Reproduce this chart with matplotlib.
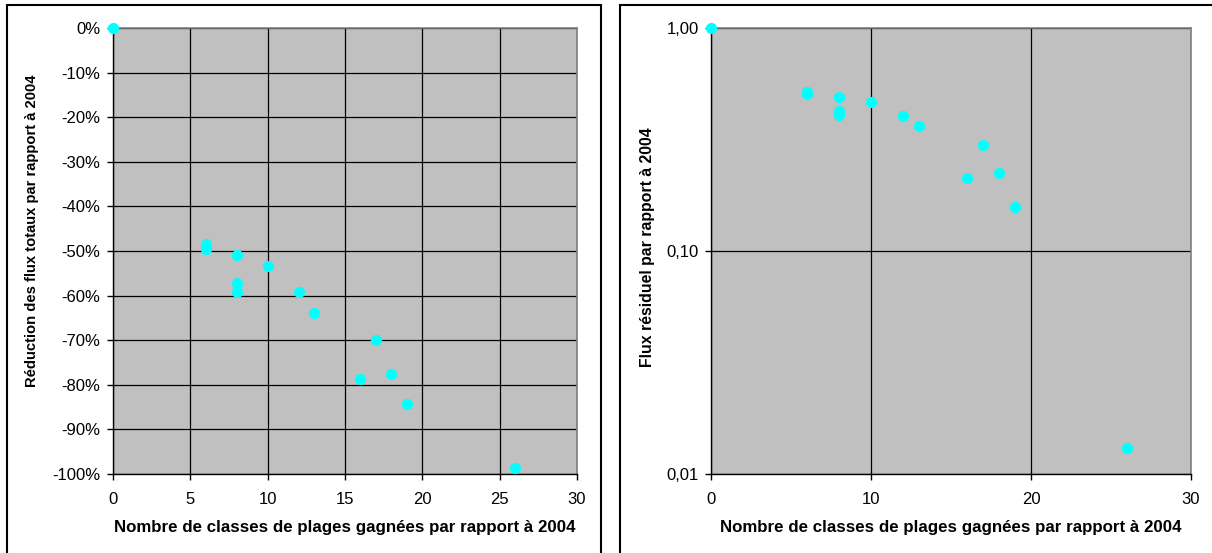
import numpy as np
import matplotlib.pyplot as plt
from matplotlib.patches import Rectangle
from matplotlib.ticker import FixedLocator, FuncFormatter

plt.rcParams['font.family'] = ['Liberation Sans', 'DejaVu Sans']

# classes de plages gagnées
classes = [0, 6, 6, 8, 8, 8, 10, 12, 13, 16, 17, 18, 19, 26]
# réduction des flux totaux (%)
reduction = [0, -48.4, -49.6, -50.9, -57.2, -59.2, -53.4, -59.3, -63.8, -78.6, -70.0, -77.6, -84.2, -98.7]
# flux résiduel (ratio)
classes_r = [0, 6, 6, 8, 8, 8, 10, 12, 13, 16, 17, 18, 19, 26]
residuel = [1.0, 0.516, 0.504, 0.491, 0.425, 0.407, 0.465, 0.405, 0.363, 0.213, 0.30, 0.224, 0.158, 0.0131]

xlabel = 'Nombre de classes de plages gagnées par rapport à 2004'
ylabel_left = 'Réduction des flux totaux par rapport à 2004'
ylabel_right = 'Flux résiduel par rapport à 2004'

W, H = 1212, 553
fig = plt.figure(figsize=(W / 100, H / 100), dpi=100)

def px_axes(x0, x1, y0, y1):
    return fig.add_axes([x0 / W, (H - y1) / H, (x1 - x0) / W, (y1 - y0) / H])

def style(ax):
    ax.set_facecolor('#c0c0c0')
    for s in ['top', 'right']:
        ax.spines[s].set_color('#808080')
        ax.spines[s].set_linewidth(1.2)
    for s in ['left', 'bottom']:
        ax.spines[s].set_color('black')
        ax.spines[s].set_linewidth(1.0)
    ax.tick_params(direction='out', length=4, width=1, labelsize=12)
    ax.tick_params(axis='x', pad=9)
    ax.tick_params(axis='y', pad=5)
    ax.grid(True, color='black', linewidth=0.9)
    ax.set_axisbelow(True)

# panneau gauche
ax1 = px_axes(113, 577, 28, 474)
style(ax1)
ax1.scatter(classes, reduction, s=65, color='#00ffff', zorder=3, clip_on=False, linewidths=0)
ax1.set_xlim(0, 30)
ax1.set_ylim(-100, 0)
ax1.set_xticks(np.arange(0, 31, 5))
ax1.set_yticks(np.arange(-100, 1, 10))
ax1.yaxis.set_major_formatter(FuncFormatter(lambda v, p: '%d%%' % round(v)))
ax1.set_xlabel(xlabel, fontsize=12.2, fontweight='bold')
ax1.xaxis.set_label_coords(0.5, -0.103)
ax1.set_ylabel(ylabel_left, fontsize=10.6, fontweight='bold')
ax1.yaxis.set_label_coords(-0.160, 0.545)

# panneau droit
ax2 = px_axes(711, 1191, 28, 474)
style(ax2)
ax2.scatter(classes_r, residuel, s=65, color='#00ffff', zorder=3, clip_on=False, linewidths=0)
ax2.set_yscale('log')
ax2.set_xlim(0, 30)
ax2.set_ylim(0.01, 1)
ax2.set_xticks([0, 10, 20, 30])
ax2.yaxis.set_major_locator(FixedLocator([0.01, 0.1, 1]))
ax2.yaxis.set_minor_locator(FixedLocator([]))
ax2.yaxis.set_major_formatter(FuncFormatter(lambda v, p: ('%.2f' % v).replace('.', ',')))
ax2.set_xlabel(xlabel, fontsize=12.2, fontweight='bold')
ax2.xaxis.set_label_coords(0.5, -0.103)
ax2.set_ylabel(ylabel_right, fontsize=11.4, fontweight='bold')
ax2.yaxis.set_label_coords(-0.117, 0.508)

# cadres des graphiques
for x0, x1 in [(7, 601), (620, 1220)]:
    fig.patches.append(Rectangle((x0 / W, -0.05), (x1 - x0) / W, (H - 5) / H + 0.05,
                                 transform=fig.transFigure, fill=False,
                                 edgecolor='black', linewidth=1.5))

fig.savefig('out.png', dpi=100)
